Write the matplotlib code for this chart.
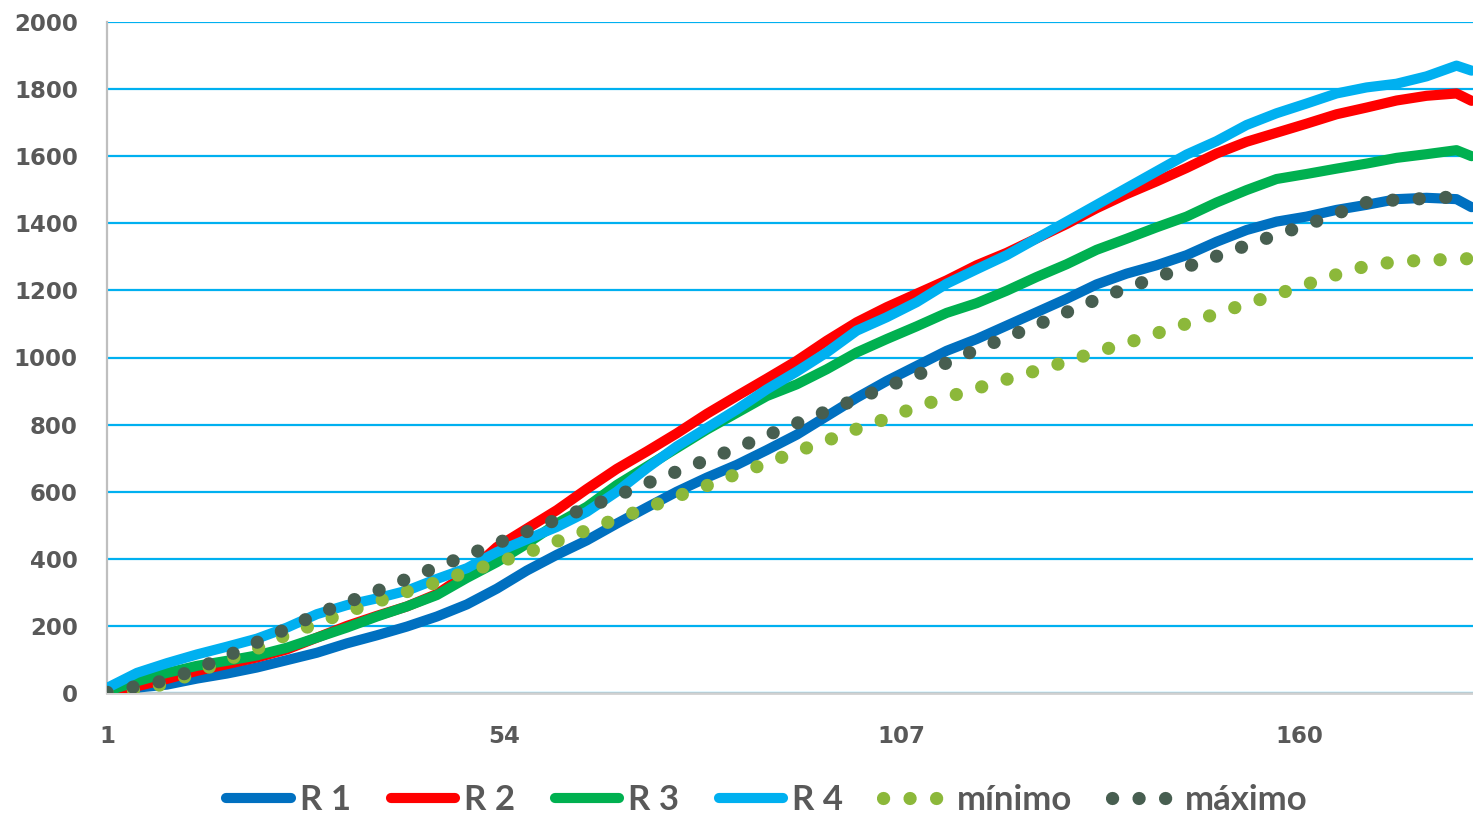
import matplotlib
matplotlib.use("Agg")
import matplotlib.pyplot as plt

# ---- data ----
x = [1, 5, 9, 13, 17, 21, 25, 29, 33, 37, 41, 45, 49, 53, 57, 61, 65, 69, 73, 77,
     81, 85, 89, 93, 97, 101, 105, 109, 113, 117, 121, 125, 129, 133, 137, 141, 145,
     149, 153, 157, 161, 165, 169, 173, 177, 181, 183]

r1 = [5, 16, 25, 43, 58, 76, 98, 120, 148, 172, 198, 228, 264, 311, 365, 412, 455, 505,
      553, 600, 642, 680, 724, 770, 825, 880, 930, 975, 1020, 1055, 1095, 1135, 1175,
      1218, 1250, 1275, 1305, 1345, 1380, 1405, 1420, 1440, 1455, 1472, 1476, 1472, 1448]

r2 = [5, 20, 42, 66, 86, 106, 130, 165, 200, 230, 258, 295, 355, 435, 490, 545, 608,
      668, 720, 774, 832, 885, 937, 990, 1050, 1105, 1150, 1190, 1230, 1275, 1312, 1355,
      1398, 1445, 1487, 1525, 1565, 1608, 1643, 1670, 1697, 1725, 1745, 1766, 1780, 1787, 1765]

r3 = [5, 35, 60, 81, 96, 112, 135, 165, 195, 228, 258, 292, 343, 390, 445, 505, 555,
      620, 675, 730, 785, 835, 885, 920, 965, 1015, 1055, 1093, 1133, 1162, 1199, 1240,
      1278, 1321, 1354, 1388, 1420, 1462, 1499, 1532, 1547, 1563, 1578, 1595, 1606, 1618, 1600]

r4 = [15, 60, 89, 115, 138, 162, 195, 235, 262, 282, 305, 340, 372, 420, 458, 495, 540,
      600, 670, 735, 790, 845, 905, 958, 1015, 1080, 1120, 1165, 1220, 1263, 1305, 1355,
      1405, 1455, 1505, 1555, 1605, 1645, 1693, 1728, 1757, 1787, 1805, 1816, 1838, 1870, 1855]

minimo = [0, 10, 28, 62, 99, 132, 174, 207, 242, 272, 302, 330, 361, 388, 418, 452, 485,
          519, 551, 586, 618, 653, 685, 720, 752, 787, 818, 853, 881, 908, 935, 961, 988,
          1017, 1043, 1072, 1101, 1131, 1160, 1188, 1218, 1247, 1273, 1286, 1290, 1293, 1295]

maximo = [2, 20, 38, 72, 110, 151, 192, 235, 270, 304, 340, 375, 410, 446, 481, 517, 552,
          588, 625, 660, 695, 730, 768, 804, 840, 876, 913, 948, 984, 1024, 1060, 1097, 1135,
          1173, 1207, 1239, 1270, 1302, 1334, 1366, 1395, 1429, 1462, 1470, 1474, 1479, 1482]

x_ticks = [1, 54, 107, 160]
y_ticks = list(range(0, 2001, 200))

series = [("R 1", r1, "#0070C0"), ("R 2", r2, "#FF0000"),
          ("R 3", r3, "#00B050"), ("R 4", r4, "#00B0F0")]
dotted = [("mínimo", minimo, "#8CB83A"), ("máximo", maximo, "#475E50")]

TXT = "#595959"

fig = plt.figure(figsize=(14.73, 8.16), dpi=100)
ax = fig.add_axes([107 / 1473, 123 / 816, 1366 / 1473, 671 / 816])

for name, ys, col in series:
    ax.plot(x, ys, color=col, lw=7.3, solid_capstyle="round",
            solid_joinstyle="round", label=name, zorder=3)
for name, ys, col in dotted:
    ax.plot(x, ys, color=col, lw=9.5, linestyle=(0, (0.01, 2.0)),
            dash_capstyle="round", label=name, zorder=4)

ax.set_xlim(1, 183.2)
ax.set_ylim(0, 2000)
ax.set_xticks(x_ticks)
ax.set_xticklabels([str(v) for v in x_ticks])
ax.set_yticks(y_ticks)
ax.set_yticklabels([str(v) for v in y_ticks])

ax.grid(axis="y", color="#00B0F0", lw=1.6, zorder=1)
ax.grid(axis="x", visible=False)
ax.set_axisbelow(True)
for s in ["top", "right"]:
    ax.spines[s].set_visible(False)
ax.spines["left"].set_color("#BFBFBF")
ax.spines["left"].set_linewidth(1.6)
ax.spines["bottom"].set_color("#D0D0D0")
ax.spines["bottom"].set_linewidth(2)

ax.tick_params(axis="both", length=0, labelsize=16.5, labelcolor=TXT)
ax.tick_params(axis="x", pad=23)
ax.tick_params(axis="y", pad=21)
for lab in ax.get_xticklabels() + ax.get_yticklabels():
    lab.set_fontweight("bold")
    lab.set_family("DejaVu Sans")

handles, labels = ax.get_legend_handles_labels()
leg = fig.legend(handles, labels, ncol=6, loc="center",
                 bbox_to_anchor=(767 / 1473, 16 / 816), frameon=False,
                 prop={"family": "Lato", "weight": "bold", "size": 25},
                 handlelength=1.85, handletextpad=0.26, columnspacing=1.15,
                 borderaxespad=0, borderpad=0)
for t in leg.get_texts():
    t.set_color(TXT)

fig.savefig("out.png", dpi=100)
